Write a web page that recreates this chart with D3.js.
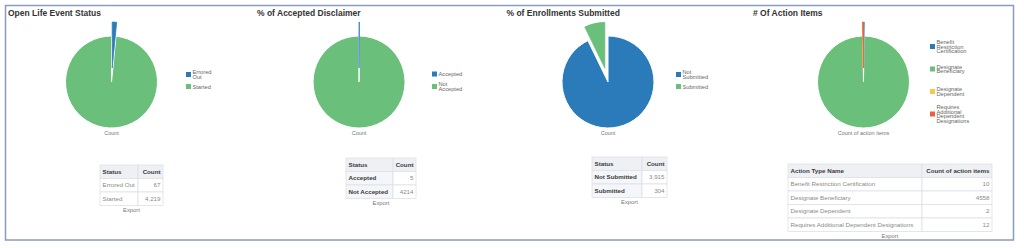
<!DOCTYPE html>
<html>
<head>
<meta charset="utf-8">
<script src="https://cdn.jsdelivr.net/npm/d3@7"></script>
<style>
  body { margin: 0; background: #fff; }
  text { font-family: "Liberation Sans", Arial, sans-serif; }
</style>
</head>
<body>
<div id="chart"></div>
<script>
// DATA
const titles = ["Open Life Event Status", "% of Accepted Disclaimer", "% of Enrollments Submitted", "# Of Action Items"];
const lifeEventStatus = ["Errored Out", "Started"];
const lifeEventCounts = [67, 4219];
const disclaimerStatus = ["Accepted", "Not Accepted"];
const disclaimerCounts = [5, 4214];
const enrollmentStatus = ["Not Submitted", "Submitted"];
const enrollmentCounts = [3915, 304];
const actionTypes = ["Benefit Restriction Certification", "Designate Beneficiary", "Designate Dependent", "Requires Additional Dependent Designations"];
const actionCounts = [10, 4558, 2, 12];
const measureLabels = ["Count", "Count", "Count", "Count of action items"];
const tableHeaders = [["Status", "Count"], ["Status", "Count"], ["Status", "Count"], ["Action Type Name", "Count of action items"]];

const width = 1024;
const height = 248;
const palette = ["#2b7bba", "#6abf7b", "#f6c94a", "#e8623f"];
const radius = 46;
const explode = 14;
const pieY = 82;
const rowH = 13.5;

// layout of each panel
const panels = [
  { title: titles[0], cats: lifeEventStatus, vals: lifeEventCounts, measure: measureLabels[0], header: tableHeaders[0],
    fmt: d3.format(","), titleX: 8, cx: 111.5, legX: 186, legY: 74.5, legStep: 12,
    tX: 100, tY: 165, cols: [38, 25], boldLabels: false },
  { title: titles[1], cats: disclaimerStatus, vals: disclaimerCounts, measure: measureLabels[1], header: tableHeaders[1],
    fmt: d3.format("d"), titleX: 257, cx: 359, legX: 432, legY: 74, legStep: 12.5,
    tX: 346, tY: 158, cols: [47, 23], boldLabels: true },
  { title: titles[2], cats: enrollmentStatus, vals: enrollmentCounts, measure: measureLabels[2], header: tableHeaders[2],
    fmt: d3.format(","), titleX: 506.5, cx: 608, legX: 676, legY: 74.5, legStep: 12,
    tX: 592, tY: 157, cols: [50, 25], boldLabels: true },
  { title: titles[3], cats: actionTypes, vals: actionCounts, measure: measureLabels[3], header: tableHeaders[3],
    fmt: d3.format("d"), titleX: 753, cx: 863.5, legX: 930, legY: 46.5, legStep: 22.5,
    tX: 788, tY: 164, cols: [134, 70], boldLabels: false }
];

const svg = d3.select('#chart')
  .append('svg')
  .attr('width', width)
  .attr('height', height);

// FRAME
svg.append('rect')
  .attr('x', 5.5).attr('y', 5.5)
  .attr('width', 1008).attr('height', 234.5)
  .attr('fill', 'none')
  .attr('stroke', '#8b9bbd')
  .attr('stroke-width', 1.5);

const pie = d3.pie().sort(null).value(d => d);
const arc = d3.arc().innerRadius(0).outerRadius(radius);

panels.forEach(p => {
  const g = svg.append('g');
  const color = d3.scaleOrdinal().domain(p.cats).range(palette);

  // TITLE
  g.append('text')
    .attr('x', p.titleX).attr('y', 16)
    .attr('font-size', 8.5)
    .attr('font-weight', 'bold')
    .attr('fill', '#333')
    .text(p.title);

  // PIE
  const arcs = pie(p.vals);
  const maxVal = d3.max(p.vals);
  const pieG = g.append('g').attr('transform', `translate(${p.cx},${pieY})`);

  arcs.filter(d => d.data === maxVal).forEach((d) => {
    pieG.append('path')
      .attr('d', arc(d))
      .attr('fill', color(p.cats[d.index]))
      .attr('stroke', '#fff')
      .attr('stroke-width', 1);
  });

  arcs.filter(d => d.data !== maxVal).forEach((d) => {
    const mid = (d.startAngle + d.endAngle) / 2;
    const c = color(p.cats[d.index]);
    pieG.append('path')
      .attr('d', arc(d))
      .attr('transform', `translate(${Math.sin(mid) * explode},${-Math.cos(mid) * explode})`)
      .attr('fill', c)
      .attr('stroke', c)
      .attr('stroke-width', 0.7);
  });

  g.append('text')
    .attr('x', p.cx).attr('y', 135)
    .attr('text-anchor', 'middle')
    .attr('font-size', 5.5)
    .attr('fill', '#777')
    .text(p.measure);

  // LEGEND
  const lineH = 4.8;
  p.cats.forEach((cat, i) => {
    const cy = p.legY + i * p.legStep;
    const words = cat.split(' ');
    g.append('rect')
      .attr('x', p.legX).attr('y', cy - 2.5)
      .attr('width', 5).attr('height', 5)
      .attr('fill', color(cat));
    const t = g.append('text')
      .attr('font-size', 5.7)
      .attr('fill', '#666');
    words.forEach((w, j) => {
      t.append('tspan')
        .attr('x', p.legX + 6.5)
        .attr('y', cy + (j - (words.length - 1) / 2) * lineH + 2)
        .text(w);
    });
  });

  // TABLE
  const rows = [p.header].concat(p.cats.map((c, i) => [c, p.fmt(p.vals[i])]));
  const tw = p.cols[0] + p.cols[1];
  rows.forEach((r, i) => {
    const y = p.tY + i * rowH;
    const isHead = i === 0;
    g.append('rect')
      .attr('x', p.tX).attr('y', y)
      .attr('width', p.cols[0]).attr('height', rowH)
      .attr('fill', isHead ? '#eef0f4' : (p.boldLabels ? '#f4f6f9' : '#fff'))
      .attr('stroke', '#dde1e7').attr('stroke-width', 0.8);
    g.append('rect')
      .attr('x', p.tX + p.cols[0]).attr('y', y)
      .attr('width', p.cols[1]).attr('height', rowH)
      .attr('fill', isHead ? '#eef0f4' : '#fff')
      .attr('stroke', '#dde1e7').attr('stroke-width', 0.8);

    const labelBold = isHead || p.boldLabels;
    g.append('text')
      .attr('x', p.tX + 2.5).attr('y', y + rowH / 2)
      .attr('dy', '0.35em')
      .attr('font-size', 6.2)
      .attr('font-weight', labelBold ? 'bold' : 'normal')
      .attr('fill', labelBold ? '#3a3a3a' : '#8a8a8a')
      .text(r[0]);
    g.append('text')
      .attr('x', p.tX + tw - 2.5).attr('y', y + rowH / 2)
      .attr('dy', '0.35em')
      .attr('text-anchor', 'end')
      .attr('font-size', 6.2)
      .attr('font-weight', isHead ? 'bold' : 'normal')
      .attr('fill', isHead ? '#3a3a3a' : '#8a8a8a')
      .text(r[1]);
  });

  g.append('text')
    .attr('x', p.tX + tw / 2).attr('y', p.tY + rows.length * rowH + 4.5)
    .attr('dy', '0.35em')
    .attr('text-anchor', 'middle')
    .attr('font-size', 5.8)
    .attr('fill', '#777')
    .text('Export');
});
</script>
</body>
</html>
